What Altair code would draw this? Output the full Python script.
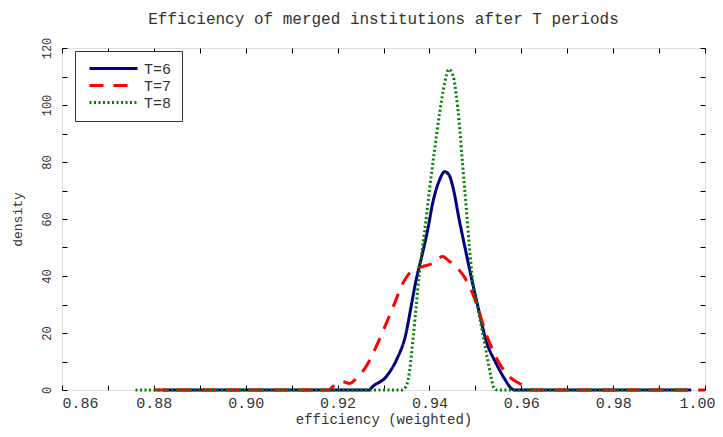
import altair as alt
import pandas as pd

# ---- data ----
T6_x = [0.882, 0.9270, 0.9273, 0.9306, 0.9328, 0.9349, 0.9360, 0.9371, 0.9385, 0.9396,
        0.9407, 0.9422, 0.9433, 0.9443, 0.9451, 0.9465, 0.9480, 0.9494, 0.9509, 0.9523,
        0.9545, 0.9563, 0.9578, 0.9585, 0.997]
T6_y = [0, 0, 0.6, 4.7, 10.5, 19.9, 29.2, 38.6, 48, 56,
        65.5, 73.7, 76.6, 75.4, 71.3, 59.6, 48, 37.4, 26.9, 17.5,
        9.4, 4.1, 0.6, 0, 0]

T7_x = [0.880, 0.9180, 0.9190, 0.9211, 0.9226, 0.9244, 0.9262, 0.9284, 0.9306, 0.9324,
        0.9342, 0.9364, 0.9385, 0.9407, 0.9429, 0.9440, 0.9458, 0.9480, 0.9494, 0.9509,
        0.9523, 0.9538, 0.9552, 0.9574, 0.9596, 0.9617, 0.9625, 1.000]
T7_y = [0, 0, 1.2, 2.9, 2.3, 4.7, 8.2, 15.2, 23.4, 30.4,
        37.4, 42.1, 43.3, 44.4, 46.8, 45.6, 43.3, 38.6, 33.9, 26.9,
        19.9, 14, 9.4, 4.7, 2.3, 0.6, 0, 0]

T8_x = [0.876, 0.9340, 0.9349, 0.9357, 0.9364, 0.9371, 0.9378, 0.9389, 0.9400, 0.9411,
        0.9422, 0.9433, 0.9442, 0.9452, 0.9458, 0.9465, 0.9472, 0.9480, 0.9487, 0.9494,
        0.9505, 0.9516, 0.9527, 0.9534, 0.9541, 0.9548, 0.996]
T8_y = [0, 0, 1.2, 7, 17.5, 29.2, 41, 55, 70, 84,
        97, 107.6, 112.5, 110, 104, 93.6, 79.5, 64.3, 50.3, 38.6,
        29.2, 19.9, 10.5, 4.7, 0.6, 0, 0]

series_names = ["T=6", "T=7", "T=8"]
series_colors = ["#000080", "#ff0000", "#008000"]
series_dashes = [[1, 0], [14, 10], [2, 2.5]]

x_ticks = [round(0.86 + 0.01 * i, 2) for i in range(15)]
y_ticks = [10 * i for i in range(13)]

rows = []
for name, xs, ys in zip(series_names, [T6_x, T7_x, T8_x], [T6_y, T7_y, T8_y]):
    for xv, yv in zip(xs, ys):
        rows.append({"eff": xv, "density": yv, "T": name})
df = pd.DataFrame(rows)

FONT = "Liberation Mono"
TXT = "#333333"

x_scale = alt.Scale(domain=[0.86, 1.0], nice=False, zero=False)
y_scale = alt.Scale(domain=[0, 120], nice=False)

x_bottom = alt.Axis(
    orient="bottom", values=x_ticks,
    labelExpr="round(datum.value*100) % 2 == 0 ? format(datum.value, '.2f') : ''",
    labelAlign={"condition": {"test": "datum.value < 0.865", "value": "left"}, "value": "center"},
    labelOffset={"condition": {"test": "datum.value > 0.995", "value": -8}, "value": 0},
    domain=False, grid=False, offset=-5, tickSize=5, tickColor="black", tickWidth=1,
    labelPadding=5, labelFont=FONT, labelFontSize=15, labelColor=TXT,
    title="efficiency (weighted)", titleFont=FONT, titleFontSize=14,
    titleFontWeight="normal", titleColor=TXT, titlePadding=2,
)
y_left = alt.Axis(
    orient="left", values=y_ticks,
    labelExpr="datum.value % 20 == 0 ? datum.label : ''",
    labelAngle=270, labelAlign="center", labelBaseline="bottom",
    domain=False, grid=False, offset=-5, tickSize=5, tickColor="black", tickWidth=1,
    labelPadding=9, labelFont=FONT, labelFontSize=12, labelColor=TXT,
    title="density", titleFont=FONT, titleFontSize=13, titleFontWeight="normal",
    titleColor=TXT, titlePadding=16,
)
x_top = alt.Axis(orient="top", values=x_ticks, labels=False, domain=False, grid=False,
                 offset=-5, tickSize=5, tickColor="black", tickWidth=1, title="")
y_right = alt.Axis(orient="right", values=y_ticks, labels=False, domain=False, grid=False,
                   offset=-5, tickSize=5, tickColor="black", tickWidth=1, title="")

legend = alt.Legend(
    title=None, orient="none", legendX=13, legendY=3,
    symbolType="M-4,0H4", symbolSize=144, symbolStrokeWidth=3, symbolOffset=21,
    labelFont=FONT, labelFontSize=15, labelColor=TXT,
    labelOffset=23, padding=10, rowPadding=1,
    strokeColor="#333333", fillColor="white",
)

lines = alt.Chart(df).mark_line(strokeWidth=3, interpolate="monotone").encode(
    x=alt.X("eff:Q", scale=x_scale, axis=x_bottom),
    y=alt.Y("density:Q", scale=y_scale, axis=y_left),
    color=alt.Color("T:N", scale=alt.Scale(domain=series_names, range=series_colors),
                    legend=legend),
    strokeDash=alt.StrokeDash("T:N", scale=alt.Scale(domain=series_names, range=series_dashes),
                              legend=legend),
    order=alt.Order("eff:Q"),
)

frame = alt.Chart(df).mark_point(opacity=0).encode(
    x=alt.X("eff:Q", scale=x_scale, axis=x_top),
    y=alt.Y("density:Q", scale=y_scale, axis=y_right),
)

chart = alt.layer(lines, frame).resolve_axis(x="independent", y="independent").properties(
    width=643, height=342,
    autosize=alt.AutoSizeParams(type="none"),
    padding={"left": 54, "top": 40, "right": 10, "bottom": 39},
    title=alt.TitleParams("Efficiency of merged institutions after T periods",
                          font=FONT, fontSize=16, fontWeight="normal", color=TXT,
                          anchor="middle", offset=10),
).configure_view(stroke="black", strokeWidth=3).configure(background="white")

chart.save("out.html", embed_options={"renderer": "svg", "actions": False})
